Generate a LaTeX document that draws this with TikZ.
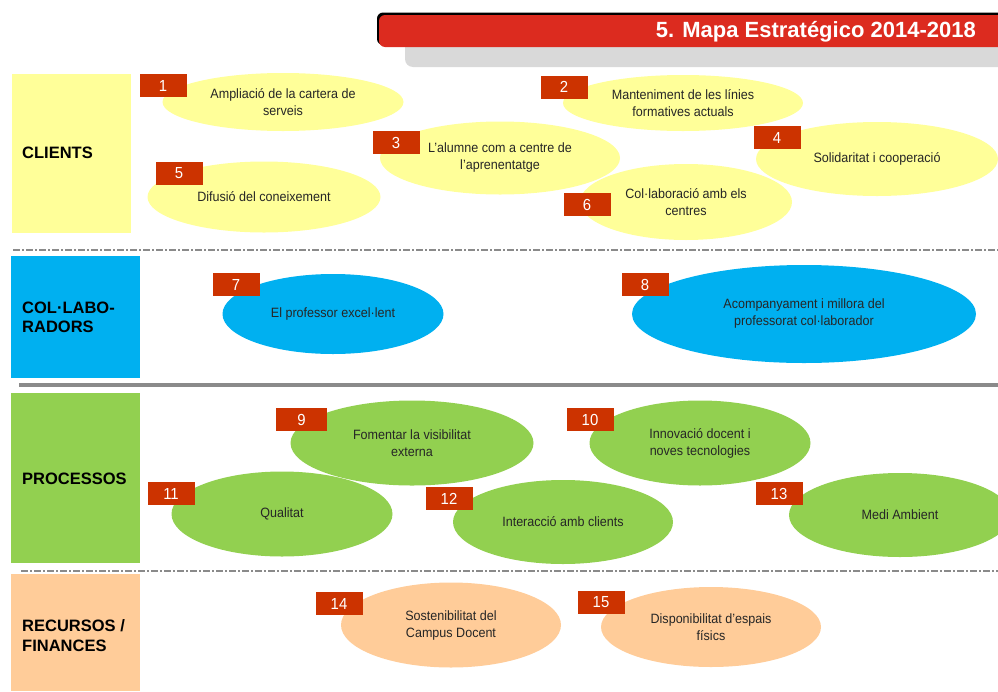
\documentclass[tikz,border=0pt]{standalone}
\usepackage{fontspec}
\setmainfont{Liberation Sans}
\newfontfamily\goalfont[FakeStretch=0.93]{Liberation Sans}
\usetikzlibrary{shapes.geometric}

\definecolor{clientyellow}{HTML}{FFFF99}
\definecolor{collabblue}{HTML}{00B0F0}
\definecolor{processgreen}{HTML}{92D050}
\definecolor{resourcepeach}{HTML}{FFCC99}
\definecolor{numred}{HTML}{CC3300}
\definecolor{titlered}{HTML}{DC2B1F}
\definecolor{bargray}{HTML}{D9D9D9}
\definecolor{linegray}{HTML}{8A8A8A}

\tikzset{
  goal/.style={ellipse, inner sep=0pt, align=center, text=black!85,
    font=\goalfont\fontsize{13.5}{17}\selectfont},
  numbox/.style={fill=numred, text=white, minimum width=47pt,
    minimum height=23pt, inner sep=0pt, font=\goalfont\fontsize{16}{16}\selectfont},
  perspective/.style={anchor=west, align=left, inner sep=0pt,
    font=\bfseries\fontsize{16.5}{19}\selectfont},
  divider/.style={linegray, line width=1.5pt,
    dash pattern=on 7pt off 2pt on 2pt off 2pt},
}

\begin{document}
\begin{tikzpicture}[x=1pt,y=-1pt]
    \useasboundingbox (0,0) rectangle (998,691);
    \clip (0,0) rectangle (998,691);

    % title bar
    \fill   [bargray, rounded corners=8pt] (405,30) rectangle (1010,67);
    \fill   [black, rounded corners=6pt] (377,12.5) rectangle (1010,45);
    \fill   [titlered, rounded corners=6pt] (379,15) rectangle (1010,47);
    \node   [anchor=east, text=white, inner sep=0pt,
             font=\bfseries\fontsize{22}{22}\selectfont] (title) at (976,32)
            {5. Mapa Estratégico 2014-2018};

    % perspectives
    \fill   [clientyellow] (12,74) rectangle (131,233);
    \fill   [collabblue] (11,256) rectangle (140,378);
    \fill   [processgreen] (11,393) rectangle (140,563);
    \fill   [resourcepeach] (11,574) rectangle (140,691);
    \node   [perspective] (clients) at (22,153) {CLIENTS};
    \node   [perspective] (collab) at (22,317) {COL·LABO-\\RADORS};
    \node   [perspective] (process) at (22,479) {PROCESSOS};
    \node   [perspective, font=\bfseries\fontsize{16.5}{20}\selectfont]
            (resources) at (22,636) {RECURSOS /\\FINANCES};

    % dividers
    \draw   [divider] (13,250) -- (998,250);
    \draw   [linegray, line width=3.5pt] (19,385) -- (998,385);
    \draw   [divider] (21,571) -- (998,571);

    % clients
    \node   [goal, fill=clientyellow, minimum width=241pt, minimum height=58pt]
            (e1) at (283,102) {Ampliació de la cartera de\\serveis};
    \node   [goal, fill=clientyellow, minimum width=240pt, minimum height=56pt]
            (e2) at (683,103) {Manteniment de les línies\\formatives actuals};
    \node   [goal, fill=clientyellow, minimum width=240pt, minimum height=73pt]
            (e3) at (500,158) {L’alumne com a centre de\\l’aprenentatge};
    \node   [goal, fill=clientyellow, minimum width=242pt, minimum height=74pt]
            (e4) at (877,159) {Solidaritat i cooperació};
    \node   [goal, fill=clientyellow, minimum width=233pt, minimum height=71pt]
            (e5) at (264,197) {Difusió del coneixement};
    \node   [goal, fill=clientyellow, minimum width=212pt, minimum height=76pt]
            (e6) at (686,202) {Col·laboració amb els\\centres};

    % col·laboradors
    \node   [goal, fill=collabblue, minimum width=221pt, minimum height=80pt]
            (e7) at (333,314) {El professor excel·lent};
    \node   [goal, fill=collabblue, minimum width=344pt, minimum height=98pt]
            (e8) at (804,314) {Acompanyament i millora del\\professorat col·laborador};

    % processos
    \node   [goal, fill=processgreen, minimum width=243pt, minimum height=85pt]
            (e9) at (412,443) {Fomentar la visibilitat\\externa};
    \node   [goal, fill=processgreen, minimum width=221pt, minimum height=85pt]
            (e10) at (700,443) {Innovació docent i\\noves tecnologies};
    \node   [goal, fill=processgreen, minimum width=221pt, minimum height=85pt]
            (e11) at (282,514) {Qualitat};
    \node   [goal, fill=processgreen, minimum width=220pt, minimum height=84pt]
            (e12) at (563,522) {Interacció amb clients};
    \node   [goal, fill=processgreen, minimum width=222pt, minimum height=84pt]
            (e13) at (900,515) {Medi Ambient};

    % recursos / finances
    \node   [goal, fill=resourcepeach, minimum width=220pt, minimum height=85pt]
            (e14) at (451,625) {Sostenibilitat del\\Campus Docent};
    \node   [goal, fill=resourcepeach, minimum width=220pt, minimum height=80pt]
            (e15) at (711,627) {Disponibilitat d’espais\\físics};

    % numbers
    \node   [numbox] (b1) at (163,85.5) {1};
    \node   [numbox] (b2) at (564,87) {2};
    \node   [numbox] (b3) at (396,142.5) {3};
    \node   [numbox] (b4) at (777,137.5) {4};
    \node   [numbox] (b5) at (179,173.5) {5};
    \node   [numbox] (b6) at (587,204.5) {6};
    \node   [numbox] (b7) at (236,284.5) {7};
    \node   [numbox] (b8) at (645,284.5) {8};
    \node   [numbox, minimum width=51pt] (b9) at (301.5,419.5) {9};
    \node   [numbox] (b10) at (590,419.5) {10};
    \node   [numbox] (b11) at (171,493.5) {11};
    \node   [numbox] (b12) at (449,498.5) {12};
    \node   [numbox] (b13) at (779,493.5) {13};
    \node   [numbox] (b14) at (339,603.5) {14};
    \node   [numbox] (b15) at (601,602) {15};
\end{tikzpicture}
\end{document}
